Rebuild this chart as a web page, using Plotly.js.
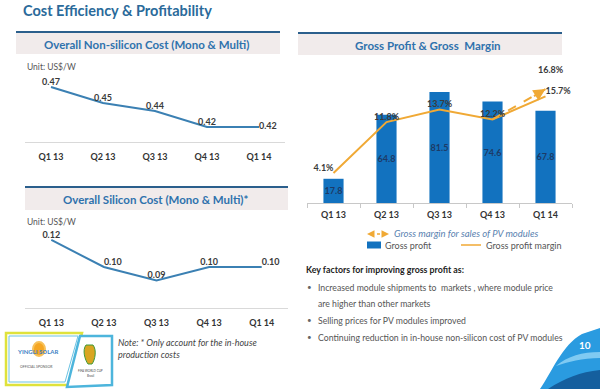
<!DOCTYPE html>
<html><head><meta charset="utf-8">
<script src="https://cdn.plot.ly/plotly-3.0.1.min.js"></script>
<style>html,body{margin:0;padding:0;background:#fff}#chart{width:600px;height:389px}</style>
</head><body><div id="chart"></div>
<script>
// ---- data ----
const quarters = ['Q1 13', 'Q2 13', 'Q3 13', 'Q4 13', 'Q1 14'];
const nonSiliconCost = [0.47, 0.45, 0.44, 0.42, 0.42];
const siliconCost = [0.12, 0.10, 0.09, 0.10, 0.10];
const grossProfit = [17.8, 64.8, 81.5, 74.6, 67.8];
const grossMargin = [4.1, 11.8, 13.7, 12.2, 15.7];
const pvQuarters = ['Q4 13', 'Q1 14'];
const pvMargin = [12.2, 16.8];

// ---- helpers (pixel -> paper) ----
const W = 600, H = 389;
const px = x => x / W;
const py = y => 1 - y / H;
const FONT = 'Lato, "Open Sans", sans-serif';
const ORANGE = '#f0a935';
const BARBLUE = '#1272bf';
const LINEBLUE = '#3b80b3';

const labelFont = {family: FONT, size: 9, color: '#3a3a3a', weight: 'bold'};

const traces = [
  {
    type: 'scatter', mode: 'lines+text', x: quarters, y: nonSiliconCost,
    xaxis: 'x', yaxis: 'y',
    line: {color: LINEBLUE, width: 2},
    text: nonSiliconCost.map(v => v.toFixed(2)),
    textposition: ['top center', 'top center', 'top center', 'top center', 'middle right'],
    textfont: labelFont, cliponaxis: false, hoverinfo: 'skip', showlegend: false
  },
  {
    type: 'scatter', mode: 'lines+text', x: quarters, y: siliconCost,
    xaxis: 'x2', yaxis: 'y2',
    line: {color: LINEBLUE, width: 2},
    text: siliconCost.map(v => v.toFixed(2)),
    textposition: ['top center', 'top right', 'top center', 'top center', 'top right'],
    textfont: labelFont, cliponaxis: false, hoverinfo: 'skip', showlegend: false
  },
  {
    type: 'bar', x: quarters, y: grossProfit, xaxis: 'x3', yaxis: 'y3',
    marker: {color: BARBLUE},
    text: grossProfit.map(v => v.toFixed(1)),
    textposition: 'inside', insidetextanchor: 'middle', constraintext: 'none',
    textangle: 0,
    insidetextfont: {family: FONT, size: 9, color: '#1d3a66', weight: 'bold'},
    hoverinfo: 'skip', showlegend: false
  },
  {
    type: 'scatter', mode: 'lines+text', x: quarters, y: grossMargin,
    xaxis: 'x3', yaxis: 'y4',
    line: {color: ORANGE, width: 2},
    text: grossMargin.map(v => v.toFixed(1) + '%'),
    textposition: ['top left', 'top center', 'top center', 'top center', 'top right'],
    textfont: labelFont, cliponaxis: false, hoverinfo: 'skip', showlegend: false
  },
  {
    type: 'scatter', mode: 'lines', x: pvQuarters, y: pvMargin,
    xaxis: 'x3', yaxis: 'y4',
    line: {color: ORANGE, width: 2, dash: 'dash'},
    cliponaxis: false, hoverinfo: 'skip', showlegend: false
  }
];

const tickFont = {family: FONT, size: 9, color: '#333', weight: 'bold'};
const baseX = {
  type: 'category', showgrid: false, zeroline: false, showline: true,
  linecolor: '#d9d9d9', linewidth: 1, ticks: '', tickfont: tickFont,
  ticklabelstandoff: 6, fixedrange: true, range: [-0.5, 4.5]
};

const shapes = [];
const annotations = [];

function header(x0, x1, y0, y1, text, cx) {
  shapes.push({type: 'rect', xref: 'paper', yref: 'paper', x0: px(x0), x1: px(x1), y0: py(y1), y1: py(y0),
    fillcolor: '#f1ebeb', line: {width: 0}, layer: 'below'});
  shapes.push({type: 'line', xref: 'paper', yref: 'paper', x0: px(x0), x1: px(x1), y0: py(y0), y1: py(y0),
    line: {color: '#2b5f8c', width: 2}});
  annotations.push({xref: 'paper', yref: 'paper', x: px(cx), y: py((y0 + y1) / 2 + 1), text: text,
    showarrow: false, xanchor: 'center', yanchor: 'middle',
    font: {family: FONT, size: 11.5, color: '#2f72ad', weight: 'bold'}});
}
function txt(x, y, text, opts) {
  annotations.push(Object.assign({xref: 'paper', yref: 'paper', x: px(x), y: py(y), text: text,
    showarrow: false, xanchor: 'left', yanchor: 'middle',
    font: {family: FONT, size: 8, color: '#555'}}, opts || {}));
}

// headers
header(16, 280, 32, 54, 'Overall Non-silicon Cost (Mono &amp; Multi)', 146);
header(25, 288, 187, 210, 'Overall Silicon Cost (Mono &amp; Multi)*', 156);
header(298, 562, 33, 55, 'Gross Profit &amp; Gross  Margin', 428);

// main title
txt(21, 10, 'Cost Efficiency &amp; Profitability', {font: {family: FONT, size: 14.5, color: '#2a6a9a', weight: 'bold'}});

// unit labels
txt(25, 67, 'Unit: US$/W', {font: {family: FONT, size: 8.5, color: '#555'}});
txt(25, 222, 'Unit: US$/W', {font: {family: FONT, size: 8.5, color: '#555'}});

// note
txt(116, 342, 'Note: * Only account for the in-house', {font: {family: FONT, size: 9, color: '#444', style: 'italic'}});
txt(116, 354, 'production costs', {font: {family: FONT, size: 9, color: '#444', style: 'italic'}});

// legend (right chart)
annotations.push({xref: 'paper', yref: 'paper', x: px(367), y: py(234), ax: 8, ay: 0, text: '',
  showarrow: true, arrowhead: 2, arrowsize: 1, arrowwidth: 1.5, arrowcolor: ORANGE});
annotations.push({xref: 'paper', yref: 'paper', x: px(389), y: py(234), ax: -8, ay: 0, text: '',
  showarrow: true, arrowhead: 2, arrowsize: 1, arrowwidth: 1.5, arrowcolor: ORANGE});
shapes.push({type: 'line', xref: 'paper', yref: 'paper', x0: px(377), x1: px(380), y0: py(234), y1: py(234),
  line: {color: ORANGE, width: 1.5}});
txt(392, 234, 'Gross margin for sales of PV modules', {font: {family: FONT, size: 9.5, color: '#5a82b0', style: 'italic'}});
shapes.push({type: 'rect', xref: 'paper', yref: 'paper', x0: px(367), x1: px(381), y0: py(248.5), y1: py(241.5),
  fillcolor: BARBLUE, line: {width: 0}});
txt(383, 245, 'Gross profit', {font: {family: FONT, size: 9, color: '#555'}});
shapes.push({type: 'line', xref: 'paper', yref: 'paper', x0: px(461), x1: px(481), y0: py(245), y1: py(245),
  line: {color: ORANGE, width: 1.5}});
txt(484, 245, 'Gross profit margin', {font: {family: FONT, size: 9, color: '#555'}});

// arrow head and label on dashed PV margin line
annotations.push({xref: 'x3', yref: 'y4', x: 'Q1 14', y: pvMargin[1], ax: -13, ay: 8, text: '',
  showarrow: true, arrowhead: 2, arrowsize: 1.2, arrowwidth: 2, arrowcolor: ORANGE, standoff: 0});
annotations.push({xref: 'x3', yref: 'y4', x: 'Q1 14', y: pvMargin[1], text: pvMargin[1].toFixed(1) + '%',
  showarrow: false, xanchor: 'center', yanchor: 'bottom', xshift: 5, yshift: 12, font: labelFont});

// key factors text
txt(304, 269, 'Key factors for improving gross profit as:', {font: {family: FONT, size: 8.8, color: '#222', weight: 'bold'}});
const bulletsY = [287, 320, 337];
const bulletTexts = [
  'Increased module shipments to  markets , where module price',
  'Selling prices for PV modules improved',
  'Continuing reduction in in-house non-silicon cost of PV modules'
];
bulletTexts.forEach((t, i) => {
  txt(305, bulletsY[i], '•', {font: {family: FONT, size: 8, color: '#666'}});
  txt(316, bulletsY[i], t, {font: {family: FONT, size: 8.7, color: '#555'}});
});
txt(316, 303, 'are higher than other markets', {font: {family: FONT, size: 8.7, color: '#555'}});

// page badge (decorative swoosh)
shapes.push({type: 'path', xref: 'paper', yref: 'paper',
  path: `M ${px(540)} ${py(389)} C ${px(552)} ${py(372)}, ${px(562)} ${py(345)}, ${px(582)} ${py(334)} L ${px(600)} ${py(328)} L ${px(600)} ${py(389)} Z`,
  fillcolor: '#2a9be0', line: {width: 0}});
shapes.push({type: 'path', xref: 'paper', yref: 'paper',
  path: `M ${px(548)} ${py(389)} C ${px(565)} ${py(378)}, ${px(580)} ${py(372)}, ${px(600)} ${py(370)} L ${px(600)} ${py(389)} Z`,
  fillcolor: '#155f9e', line: {width: 0}});
shapes.push({type: 'path', xref: 'paper', yref: 'paper',
  path: `M ${px(556)} ${py(366)} C ${px(568)} ${py(356)}, ${px(582)} ${py(352)}, ${px(600)} ${py(352)} L ${px(600)} ${py(358)} C ${px(582)} ${py(358)}, ${px(568)} ${py(362)}, ${px(556)} ${py(366)} Z`,
  fillcolor: '#7fcaf2', line: {width: 0}});
txt(585, 345, '10', {xanchor: 'center', font: {family: FONT, size: 10, color: '#ffffff', weight: 'bold'}});

// sponsor logo (decorative)
shapes.push({type: 'path', xref: 'paper', yref: 'paper',
  path: `M ${px(6)} ${py(333)} L ${px(82)} ${py(333)} L ${px(68)} ${py(385)} L ${px(6)} ${py(385)} Z`,
  fillcolor: '#ffffff', line: {color: '#dfe23c', width: 2.5}});
shapes.push({type: 'path', xref: 'paper', yref: 'paper',
  path: `M ${px(9)} ${py(336)} L ${px(78)} ${py(336)} L ${px(65)} ${py(382)} L ${px(9)} ${py(382)} Z`,
  fillcolor: 'rgba(0,0,0,0)', line: {color: '#6cc3e3', width: 1}});
shapes.push({type: 'path', xref: 'paper', yref: 'paper',
  path: `M ${px(80)} ${py(336)} L ${px(112)} ${py(336)} L ${px(112)} ${py(385)} L ${px(67)} ${py(387)} Z`,
  fillcolor: '#ffffff', line: {color: '#4db5dc', width: 2.5}});
shapes.push({type: 'circle', xref: 'paper', yref: 'paper', x0: px(33), x1: px(45), y0: py(356), y1: py(342),
  fillcolor: '#f5a623', line: {color: '#f7c15a', width: 2}});
shapes.push({type: 'path', xref: 'paper', yref: 'paper',
  path: `M ${px(86)} ${py(345)} C ${px(82)} ${py(350)}, ${px(85)} ${py(360)}, ${px(88)} ${py(364)} L ${px(92)} ${py(364)} C ${px(95)} ${py(360)}, ${px(97)} ${py(350)}, ${px(93)} ${py(345)} Z`,
  fillcolor: '#d9a521', line: {color: '#3f9a3a', width: 1}});
txt(37, 351, 'YINGLI SOLAR', {xanchor: 'center', font: {family: FONT, size: 6, color: '#3c7fc4', weight: 'bold'}});
txt(36, 367, 'OFFICIAL SPONSOR', {xanchor: 'center', font: {family: FONT, size: 3.5, color: '#555'}});
txt(90, 371, 'FIFA WORLD CUP', {xanchor: 'center', font: {family: FONT, size: 3, color: '#444'}});
txt(90, 376, 'Brasil', {xanchor: 'center', font: {family: FONT, size: 3, color: '#444'}});

const layout = {
  width: W, height: H, margin: {l: 0, r: 0, t: 0, b: 0},
  paper_bgcolor: '#ffffff', plot_bgcolor: 'rgba(0,0,0,0)',
  font: {family: FONT},
  showlegend: false, bargap: 0.62,
  xaxis: Object.assign({}, baseX, {domain: [px(25), px(285)], anchor: 'y'}),
  yaxis: {domain: [py(142), py(70)], range: [0.40125, 0.49125], visible: false, fixedrange: true},
  xaxis2: Object.assign({}, baseX, {domain: [px(25), px(288)], anchor: 'y2'}),
  yaxis2: {domain: [py(308), py(225)], range: [0.0696, 0.1311], visible: false, fixedrange: true},
  xaxis3: Object.assign({}, baseX, {domain: [px(307), px(572)], anchor: 'y3', ticks: 'outside',
    tickson: 'boundaries', ticklen: 4, tickcolor: '#c8c8c8', linecolor: '#c8c8c8', ticklabelstandoff: 3}),
  yaxis3: {domain: [py(203), py(60)], range: [0, 105.1], visible: false, fixedrange: true},
  yaxis4: {overlaying: 'y3', anchor: 'x3', range: [-0.45, 21.2], visible: false, fixedrange: true},
  shapes: shapes,
  annotations: annotations
};

Plotly.newPlot('chart', traces, layout, {staticPlot: true, displayModeBar: false});
</script>
</body></html>
